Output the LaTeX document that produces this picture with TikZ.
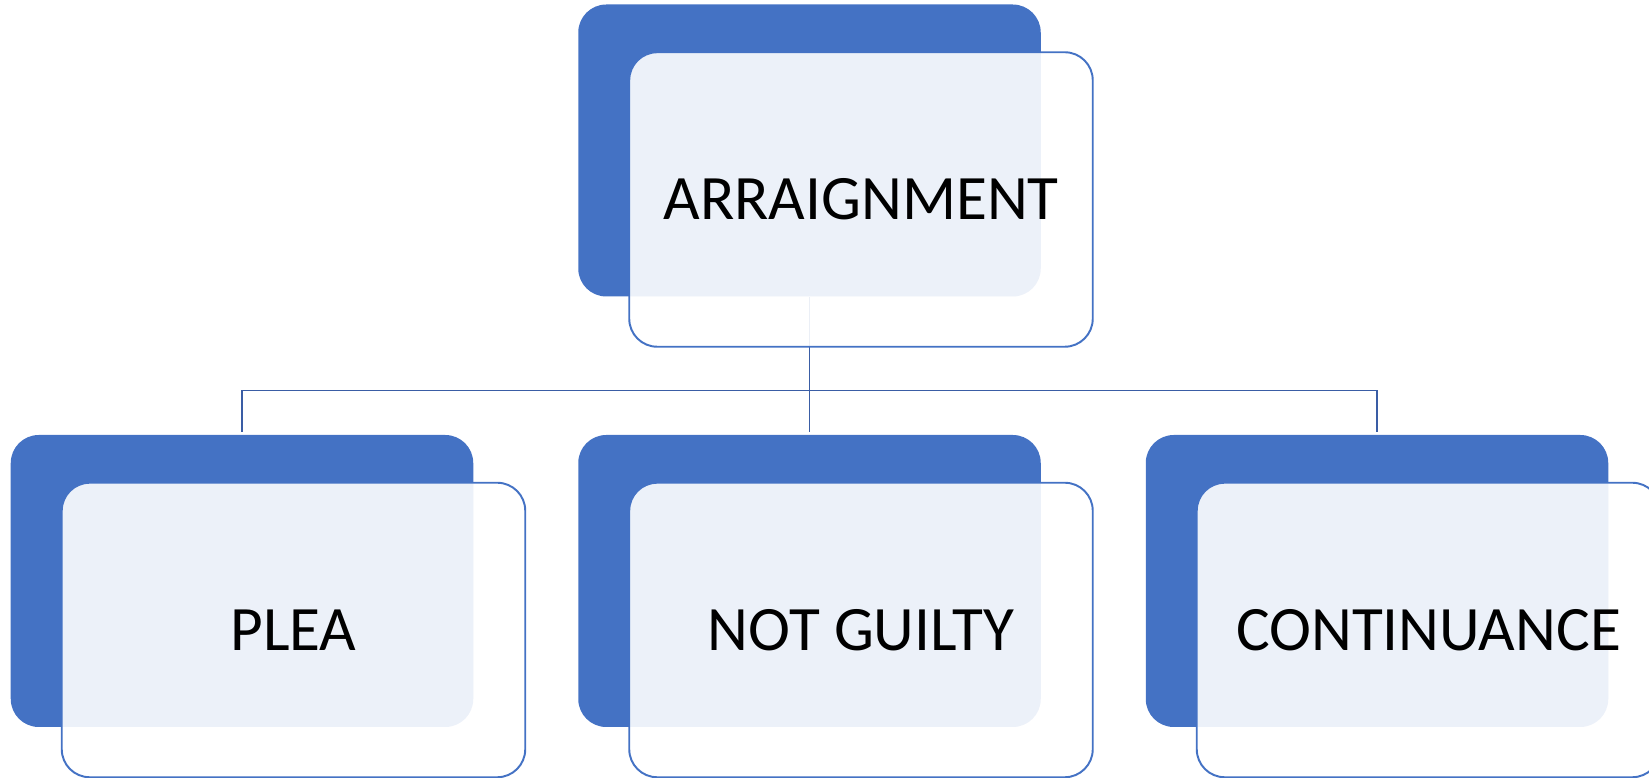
\documentclass[tikz,border=0pt]{standalone}
\usepackage{fontspec}
\setmainfont{Carlito}
\usetikzlibrary{positioning,calc}
\definecolor{cBlue}{HTML}{4472C4}
\definecolor{cLink}{HTML}{3A5DA5}
\tikzset{
  back/.style ={rectangle,rounded corners=0.56cm,fill=cBlue,inner sep=0pt,
                minimum width=9.25cm,minimum height=5.84cm},
  front/.style={rectangle,rounded corners=0.56cm,draw=cBlue,line width=1.1pt,
                fill=white,fill opacity=0.9,draw opacity=1,text opacity=1,
                inner sep=0pt,minimum width=9.27cm,minimum height=5.89cm,
                font=\fontsize{36}{43}\selectfont,text=black},
  link/.style ={draw=cLink,line width=1.1pt},
}
\begin{document}
\begin{tikzpicture}
\useasboundingbox (0,0) rectangle (32.98,15.56);

% back cards
\node[back] (arrBack)  at (16.19,12.55) {};
\node[back] (pleaBack) at (4.84,3.94) {};
\node[back] (ngBack)   at (16.19,3.94) {};
\node[back] (contBack) at (27.54,3.94) {};

% tree connectors
\coordinate (hub) at (16.19,7.75);
\draw[link] (arrBack.south) -- (hub) -| ([yshift=0.06cm]pleaBack.north);
\draw[link] (hub) -- ([yshift=0.06cm]ngBack.north);
\draw[link] (hub) -| ([yshift=0.06cm]contBack.north);

% front cards with the text
\node[front] (arr)  at ($(arrBack)+(1.03,-0.98)$)  {ARRAIGNMENT};
\node[front] (plea) at ($(pleaBack)+(1.03,-0.98)$) {PLEA};
\node[front] (ng)   at ($(ngBack)+(1.03,-0.98)$)   {NOT GUILTY};
\node[front] (cont) at ($(contBack)+(1.03,-0.98)$) {CONTINUANCE};
\end{tikzpicture}
\end{document}
